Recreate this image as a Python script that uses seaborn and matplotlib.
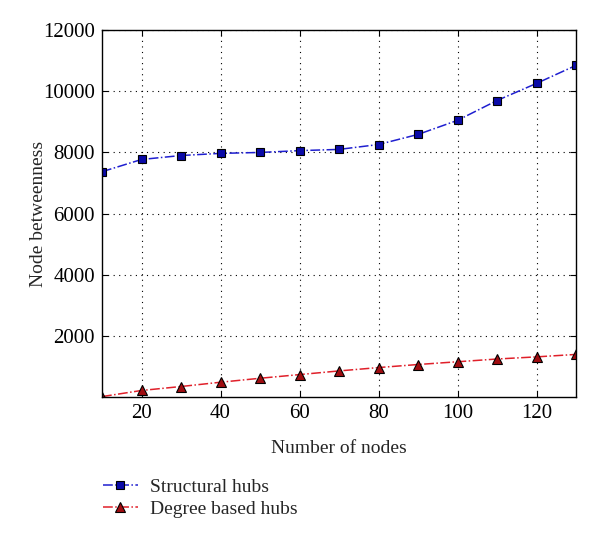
import pandas as pd
import matplotlib
matplotlib.use("Agg")
import matplotlib.pyplot as plt
import seaborn as sns

nodes = [10, 20, 30, 40, 50, 60, 70, 80, 90, 100, 110, 120, 130]
structural = [7370, 7770, 7900, 7970, 8000, 8060, 8100, 8260, 8590, 9050, 9700, 10260, 10850]
degree = [10, 210, 340, 480, 610, 730, 850, 960, 1060, 1150, 1240, 1310, 1390]

df = pd.DataFrame({"nodes": nodes, "Structural hubs": structural, "Degree based hubs": degree})

sns.set_style("white")
plt.rcParams["font.family"] = ["Liberation Serif", "DejaVu Serif"]

fig = plt.figure(figsize=(6, 5.4), dpi=100)
ax = fig.add_axes([0.17, 0.265, 0.79, 0.679])

sns.lineplot(data=df, x="nodes", y="Structural hubs", ax=ax, color="#1f1fd0",
             linestyle="-.", lw=1.1, marker="s", markersize=6,
             markerfacecolor="#0a0aa8", markeredgecolor="black", markeredgewidth=0.8,
             label="Structural hubs")
sns.lineplot(data=df, x="nodes", y="Degree based hubs", ax=ax, color="#e0202a",
             linestyle="-.", lw=1.1, marker="^", markersize=6.5,
             markerfacecolor="#a00c10", markeredgecolor="black", markeredgewidth=0.8,
             label="Degree based hubs")

ax.set_xlim(10, 130)
ax.set_ylim(0, 12000)
ax.set_xticks([20, 40, 60, 80, 100, 120])
ax.set_yticks([2000, 4000, 6000, 8000, 10000, 12000])
ax.grid(True, color="black", linestyle=(0, (1, 4)), linewidth=0.8)
for s in ax.spines.values():
    s.set_visible(True)
    s.set_color("black")
    s.set_linewidth(1.0)
ax.tick_params(direction="in", length=4, labelsize=15, colors="black", pad=5,
               top=True, right=True, bottom=True, left=True)
ax.set_xlabel("Number of nodes", fontsize=14, labelpad=12)
ax.set_ylabel("Node betweenness", fontsize=14)
ax.yaxis.set_label_coords(-0.117, 0.5)

ax.legend(loc="upper left", bbox_to_anchor=(-0.035, -0.175), frameon=False,
          fontsize=14, handlelength=1.8, handletextpad=0.6, labelspacing=0.2)

fig.savefig("out.png", dpi=100)
